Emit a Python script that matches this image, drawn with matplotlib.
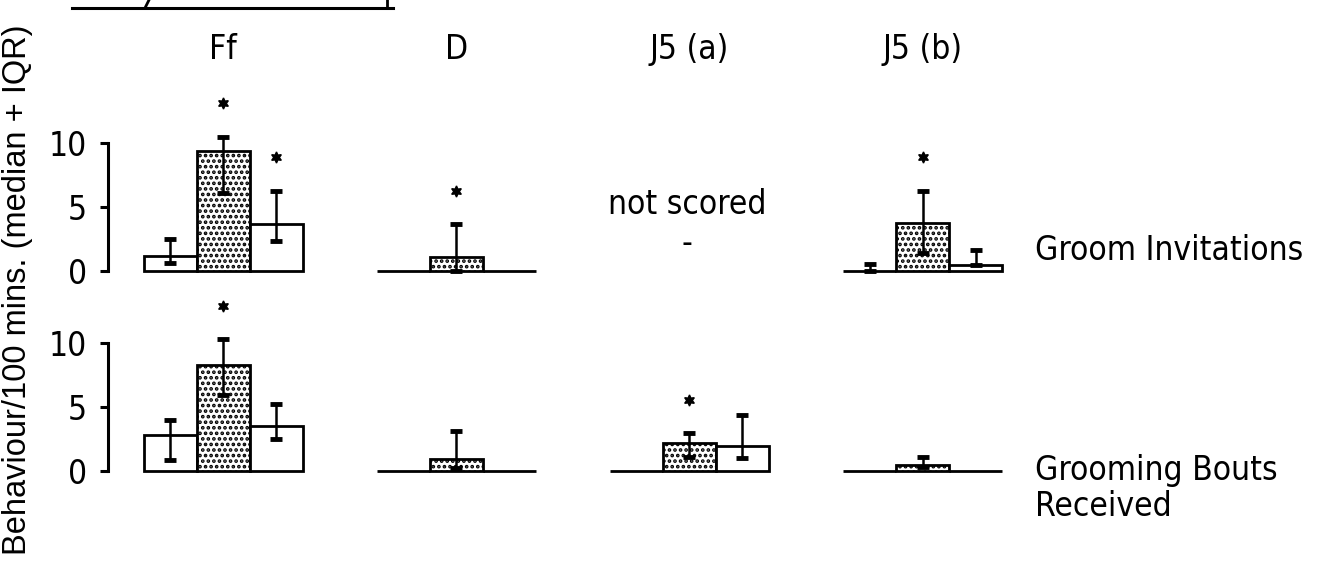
# Groom invitations and grooming bouts received per 100 mins (median + IQR)

import numpy as np
import matplotlib.pyplot as plt
from matplotlib.lines import Line2D

groups = ['Ff', 'D', 'J5 (a)', 'J5 (b)']
row_labels = ['Groom Invitations', 'Grooming Bouts\nReceived']
nan = np.nan

# three bars per group: before / during / after (middle bar stippled)
inv_med = [1.2, 9.4, 3.7,   0, 1.15, 0,   nan, nan, nan,   0, 3.75, 0.5]
inv_q1 = [0.7, 6.1, 2.35,   0, 0, 0,      nan, nan, nan,   0, 1.45, 0.5]
inv_q3 = [2.5, 10.5, 6.3,   0, 3.7, 0,    nan, nan, nan,   0.55, 6.3, 1.7]
inv_sig = [0, 1, 1,   0, 1, 0,   0, 0, 0,   0, 1, 0]

bouts_med = [2.8, 8.25, 3.5,   0, 0.95, 0,   0, 2.2, 1.95,   0, 0.5, 0]
bouts_q1 = [0.85, 5.95, 2.5,   0, 0.2, 0,    0, 1.1, 1.0,    0, 0.3, 0]
bouts_q3 = [3.95, 10.25, 5.2,  0, 3.15, 0,   0, 2.95, 4.35,  0, 1.1, 0]
bouts_sig = [0, 1, 0,   0, 0, 0,   0, 1, 0,   0, 0, 0]

yticks = [0, 5, 10]

W, H, DPI = 1317, 564, 100
font = dict(family='DejaVu Sans', stretch='condensed', fontsize=24)

fig = plt.figure(figsize=(W / DPI, H / DPI), dpi=DPI)
plt.rcParams['hatch.linewidth'] = 1.8

# layout in pixels
px_unit = 53.0          # one bar width
x_first = 223.0         # centre of first group
left_px, right_px = 108.0, 1030.0
py_unit = 12.85
ylo, yhi = -1.0, 14.0
xlo = (left_px - x_first) / px_unit
xhi = (right_px - x_first) / px_unit


def make_axes(zero_px):
    bottom = zero_px - ylo * py_unit
    top = zero_px - yhi * py_unit
    ax = fig.add_axes([left_px / W, 1 - bottom / H,
                       (right_px - left_px) / W, (bottom - top) / H])
    ax.set_xlim(xlo, xhi)
    ax.set_ylim(ylo, yhi)
    for s in ['top', 'right', 'bottom']:
        ax.spines[s].set_visible(False)
    ax.spines['left'].set_bounds(0, 10)
    ax.spines['left'].set_linewidth(2.2)
    ax.set_xticks([])
    ax.set_yticks(yticks)
    ax.tick_params(axis='y', length=6, width=2.2, pad=9)
    for lab in ax.get_yticklabels():
        lab.set_family('DejaVu Sans')
        lab.set_stretch('condensed')
        lab.set_fontsize(24)
    ax.patch.set_alpha(0)
    return ax


def draw_panel(ax, med, q1, q3, sig):
    med = np.array(med, dtype=float)
    q1 = np.array(q1, dtype=float)
    q3 = np.array(q3, dtype=float)
    pos = np.array([g * 4.4 + k for g in range(len(groups)) for k in (-1, 0, 1)])
    scored = ~np.isnan(med)
    hatch = ['...' if k == 0 else None for g in range(len(groups)) for k in (-1, 0, 1)]
    for x, m, h, ok in zip(pos, med, hatch, scored):
        if ok:
            ax.bar(x, m, width=1.0, color='white', edgecolor='black',
                   linewidth=2.0, hatch=h, zorder=2)
    has_err = scored & (q3 > 0)
    ax.errorbar(pos[has_err], q3[has_err],
                yerr=[q3[has_err] - q1[has_err], np.zeros(has_err.sum())],
                fmt='none', ecolor='black', elinewidth=1.8,
                capsize=4.5, capthick=3.5, zorder=3)
    star = np.array(sig, dtype=bool)
    ax.plot(pos[star], q3[star] + 2.6, linestyle='none', marker=(6, 1, 0),
            markersize=8, color='black', clip_on=False, zorder=4)


ax_top = make_axes(271.5)
ax_bot = make_axes(471.0)

draw_panel(ax_top, inv_med, inv_q1, inv_q3, inv_sig)
draw_panel(ax_bot, bouts_med, bouts_q1, bouts_q3, bouts_sig)

# group titles
for g, name in enumerate(groups):
    ax_top.text(g * 4.4, 17.3, name, ha='center', va='center',
                clip_on=False, **font)

# J5 (a) invitations were not recorded
ax_top.text(2 * 4.4 - 0.05, 5.2, 'not scored', ha='center', va='center', **font)
ax_top.text(2 * 4.4 - 0.05, 2.2, '-', ha='center', va='center', **font)

# row labels on the right
ax_top.text(15.32, 1.67, row_labels[0], ha='left', va='center',
            clip_on=False, **font)
ax_bot.text(15.32, 1.3, row_labels[1], ha='left', va='top',
            clip_on=False, linespacing=1.1, **font)

fig.text(18 / W, 1 - 290 / H, 'Behaviour/100 mins. (median + IQR)',
         rotation=90, ha='center', va='center', fontsize=23.5,
         family=['Liberation Sans', 'DejaVu Sans'])

# rule left over from the caption above
fig.add_artist(Line2D([72 / W, 393 / W], [1 - 8 / H, 1 - 8 / H],
                      color='black', linewidth=2.2))
fig.add_artist(Line2D([145 / W, 149 / W], [1 - 8 / H, 1 - 0 / H],
                      color='black', linewidth=2.0))
fig.add_artist(Line2D([387 / W, 387 / W], [1 - 8 / H, 1 - 0 / H],
                      color='black', linewidth=2.0))

fig.savefig('out.png', dpi=DPI)
